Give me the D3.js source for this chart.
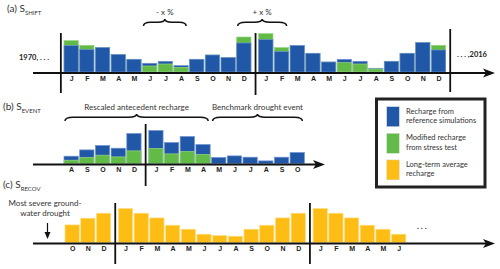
<!DOCTYPE html>
<html>
<head>
<meta charset="utf-8">
<script src="https://cdn.jsdelivr.net/npm/d3@7"></script>
<style>
  body { margin: 0; background: #fff; }
  svg { display: block; font-family: Lato, "Open Sans", sans-serif; }
  .mon text { font-size: 7px; font-weight: bold; fill: #222; }
</style>
</head>
<body>
<svg width="500" height="269"></svg>
<script>
// ---- data (arbitrary recharge units) ----
var monthsA = ["J","F","M","A","M","J","J","A","S","O","N","D","J","F","M","A","M","J","J","A","S","O","N","D"];
var breaksA = [0, 12, 24];
var refA = [26.4, 22.4, 24.4, 17.4, 12.7, 8.7, 10.7, 6.4, 12.7, 17, 14.4, 29,
            32.4, 20.4, 26.4, 18.7, 10, 12.7, 10.7, 3.7, 10.7, 18.7, 29.4, 22];
var modA = [31.4, 26.7, 24.4, 17.4, 12.7, 6, 8, 4.7, 12.7, 17, 14.4, 35,
            38.4, 24.4, 26.4, 18.7, 10, 9.4, 8, 3, 10.7, 18.7, 29.4, 26.7];

var monthsB = ["A","S","O","N","D","J","F","M","A","M","J","J","A","S","O"];
var breaksB = [5];
var refB = [7.3, 13.6, 18, 15.3, 30, 33, 21, 27, 19, 6, 7.6, 6.3, 2.6, 6.3, 11];
var modB = [3.3, 6, 8.3, 6.6, 12.6, 15, 9.6, 12, 9, null, null, null, null, null, null];

var monthsC = ["O","N","D","J","F","M","A","M","J","J","A","S","O","N","D","J","F","M","A","M","J"];
var breaksC = [3, 15];
var avgC = [17.6, 24.3, 29.3, 34, 29.3, 24.6, 17.3, 13.3, 8.3, 7, 6.3, 13.3, 17.3, 24.6, 29.3,
            34, 29.3, 24.6, 17.3, 13.3, 8.3];

var legendItems = [
  { key: "ref", lines: ["Recharge from", "reference simulations"] },
  { key: "mod", lines: ["Modified recharge", "from stress test"] },
  { key: "avg", lines: ["Long-term average", "recharge"] }
];

var colors = { ref: "#2157a7", mod: "#62ba47", avg: "#fdbd14" };
var edges = { ref: "#6f93d2", mod: "#9bd585", avg: "#fde08a" };

// ---- drawing ----
var svg = d3.select("svg");
var barW = 0.91;   // bar width in month units

// x position of month i, with a small extra gap at each year break
function posOf(i, breaks) {
  return i + 0.4 * breaks.filter(b => b > 0 && b <= i).length;
}
function sepOf(b, breaks, n) {
  if (b >= n) return posOf(n - 1, breaks) + 1.2;
  return posOf(b, breaks) - 0.2;
}

function brace(x1, x2, yTop, h) {
  var xm = (x1 + x2) / 2, ym = yTop + h * 0.45, yb = yTop + h, q = Math.min(8, (x2 - x1) / 6);
  return "M" + x1 + "," + yb +
    " Q" + x1 + "," + ym + " " + (x1 + q) + "," + ym +
    " L" + (xm - q) + "," + ym +
    " Q" + xm + "," + ym + " " + xm + "," + yTop +
    " Q" + xm + "," + ym + " " + (xm + q) + "," + ym +
    " L" + (x2 - q) + "," + ym +
    " Q" + x2 + "," + ym + " " + x2 + "," + yb;
}

function drawPanel(opt) {
  var n = opt.months.length;
  var x = d3.scaleLinear().domain([0, 1]).range([opt.x0, opt.x0 + 15.7]);
  var y = d3.scaleLinear().domain([0, 40]).range([opt.axisY - 1, opt.axisY - 41]);
  var g = svg.append("g");

  // bars: taller series first so the shorter one sits on top; on a tie only the reference shows
  opt.months.forEach(function (m, i) {
    var p = posOf(i, opt.breaks);
    var series = opt.series.map(s => ({ key: s.key, v: s.values[i] })).filter(d => d.v != null);
    series.sort((a, b) => (b.v - a.v) || (a.key == "ref" ? 1 : -1));
    series.forEach(function (d) {
      g.append("rect")
        .attr("x", x(p))
        .attr("width", x(barW) - x(0))
        .attr("y", y(d.v))
        .attr("height", y(0) - y(d.v))
        .attr("fill", colors[d.key])
        .attr("stroke", edges[d.key])
        .attr("stroke-width", 0.7);
    });
  });

  // axis line with arrow
  g.append("line")
    .attr("x1", 33).attr("x2", opt.arrowX - 8)
    .attr("y1", opt.axisY).attr("y2", opt.axisY)
    .attr("stroke", "#111").attr("stroke-width", 2);
  g.append("path")
    .attr("d", "M" + opt.arrowX + "," + opt.axisY + " L" + (opt.arrowX - 12) + "," + (opt.axisY - 4.5) +
      " L" + (opt.arrowX - 9) + "," + opt.axisY + " L" + (opt.arrowX - 12) + "," + (opt.axisY + 4.5) + "Z")
    .attr("fill", "#111");

  // month labels through a d3 axis
  var ticks = opt.months.map((m, i) => posOf(i, opt.breaks) + barW / 2);
  var ax = d3.axisBottom(x).tickValues(ticks).tickSize(0).tickPadding(3)
    .tickFormat((d, i) => opt.months[i]);
  var axg = g.append("g").attr("class", "mon")
    .attr("transform", "translate(0," + opt.axisY + ")")
    .call(ax);
  axg.select(".domain").remove();
  axg.selectAll("text").attr("font-family", null);

  // year separators
  opt.breaks.forEach(function (b, k) {
    var sx = x(sepOf(b, opt.breaks, n));
    g.append("line")
      .attr("x1", sx).attr("x2", sx)
      .attr("y1", opt.sepY[k][0]).attr("y2", opt.sepY[k][1])
      .attr("stroke", "#111").attr("stroke-width", 1.8);
  });

  // braces with labels
  (opt.braces || []).forEach(function (br) {
    var x1 = x(posOf(br.from, opt.breaks)) + 1;
    var x2 = x(posOf(br.to, opt.breaks) + barW) - 2;
    g.append("path")
      .attr("d", brace(x1, x2, br.y, br.h))
      .attr("fill", "none").attr("stroke", "#111").attr("stroke-width", 1.5);
    g.append("text")
      .attr("x", (x1 + x2) / 2).attr("y", br.y - 4)
      .attr("text-anchor", "middle")
      .attr("font-size", 8).attr("fill", "#333")
      .text(br.label);
  });

  // panel title
  var t = svg.append("text").attr("x", opt.titleX).attr("y", opt.titleY)
    .attr("font-size", 10).attr("fill", "#333");
  t.append("tspan").text(opt.title);
  t.append("tspan").attr("dy", 3).attr("font-size", 6).text(opt.sub);
  return x;
}

drawPanel({
  months: monthsA, breaks: breaksA, x0: 64, axisY: 73, arrowX: 495,
  series: [{ key: "ref", values: refA }, { key: "mod", values: modA }],
  sepY: [[33, 93], [33, 95], [29, 92]],
  braces: [{ from: 5, to: 7, y: 19, h: 7, label: "- x %" }, { from: 11, to: 13, y: 19, h: 7, label: "+ x %" }],
  title: "(a) S", sub: "SHIFT", titleX: 7, titleY: 12
});

drawPanel({
  months: monthsB, breaks: breaksB, x0: 64, axisY: 164.5, arrowX: 325,
  series: [{ key: "ref", values: refB }, { key: "mod", values: modB }],
  sepY: [[124, 186]],
  braces: [{ from: 0, to: 8, y: 114, h: 7, label: "Rescaled antecedent recharge" },
           { from: 9, to: 14, y: 114, h: 7, label: "Benchmark drought event" }],
  title: "(b) S", sub: "EVENT", titleX: 3, titleY: 110
});

drawPanel({
  months: monthsC, breaks: breaksC, x0: 65, axisY: 243.5, arrowX: 495,
  series: [{ key: "avg", values: avgC }],
  sepY: [[203, 264], [203, 264]],
  title: "(c) S", sub: "RECOV", titleX: 3, titleY: 188
});

// side notes
svg.append("text").attr("x", 19).attr("y", 60).attr("font-size", 7.5).attr("font-weight", "bold")
  .attr("fill", "#222").text("1970, . . .");
svg.append("text").attr("x", 457).attr("y", 57).attr("font-size", 7.5).attr("font-weight", "bold")
  .attr("fill", "#222").text(". . . ,2016");
svg.append("text").attr("x", 417).attr("y", 229).attr("font-size", 8).attr("font-weight", "bold")
  .attr("fill", "#222").text(". . .");

var note = svg.append("text").attr("font-size", 8).attr("fill", "#333").attr("text-anchor", "middle");
note.append("tspan").attr("x", 45).attr("y", 206).text("Most severe ground-");
note.append("tspan").attr("x", 45).attr("y", 216).text("water drought");
svg.append("line").attr("x1", 47.5).attr("x2", 47.5).attr("y1", 223).attr("y2", 234)
  .attr("stroke", "#111").attr("stroke-width", 1.2);
svg.append("path").attr("d", "M47.5,239 L44.5,232 L50.5,232Z").attr("fill", "#111");

// legend
var lg = svg.append("g");
lg.append("rect").attr("x", 376.5).attr("y", 99).attr("width", 108.5).attr("height", 88)
  .attr("fill", "#fff").attr("stroke", "#222").attr("stroke-width", 3);
legendItems.forEach(function (it, i) {
  var yy = 106.7 + i * 26.6;
  lg.append("rect").attr("x", 386.7).attr("y", yy).attr("width", 12.6).attr("height", 20)
    .attr("fill", colors[it.key]).attr("stroke", "#ddd").attr("stroke-width", 0.5);
  var tx = lg.append("text").attr("font-size", 7.5).attr("fill", "#333");
  it.lines.forEach(function (l, j) {
    tx.append("tspan").attr("x", 406).attr("y", yy + 7 + j * 9.3).text(l);
  });
});
</script>
</body>
</html>
